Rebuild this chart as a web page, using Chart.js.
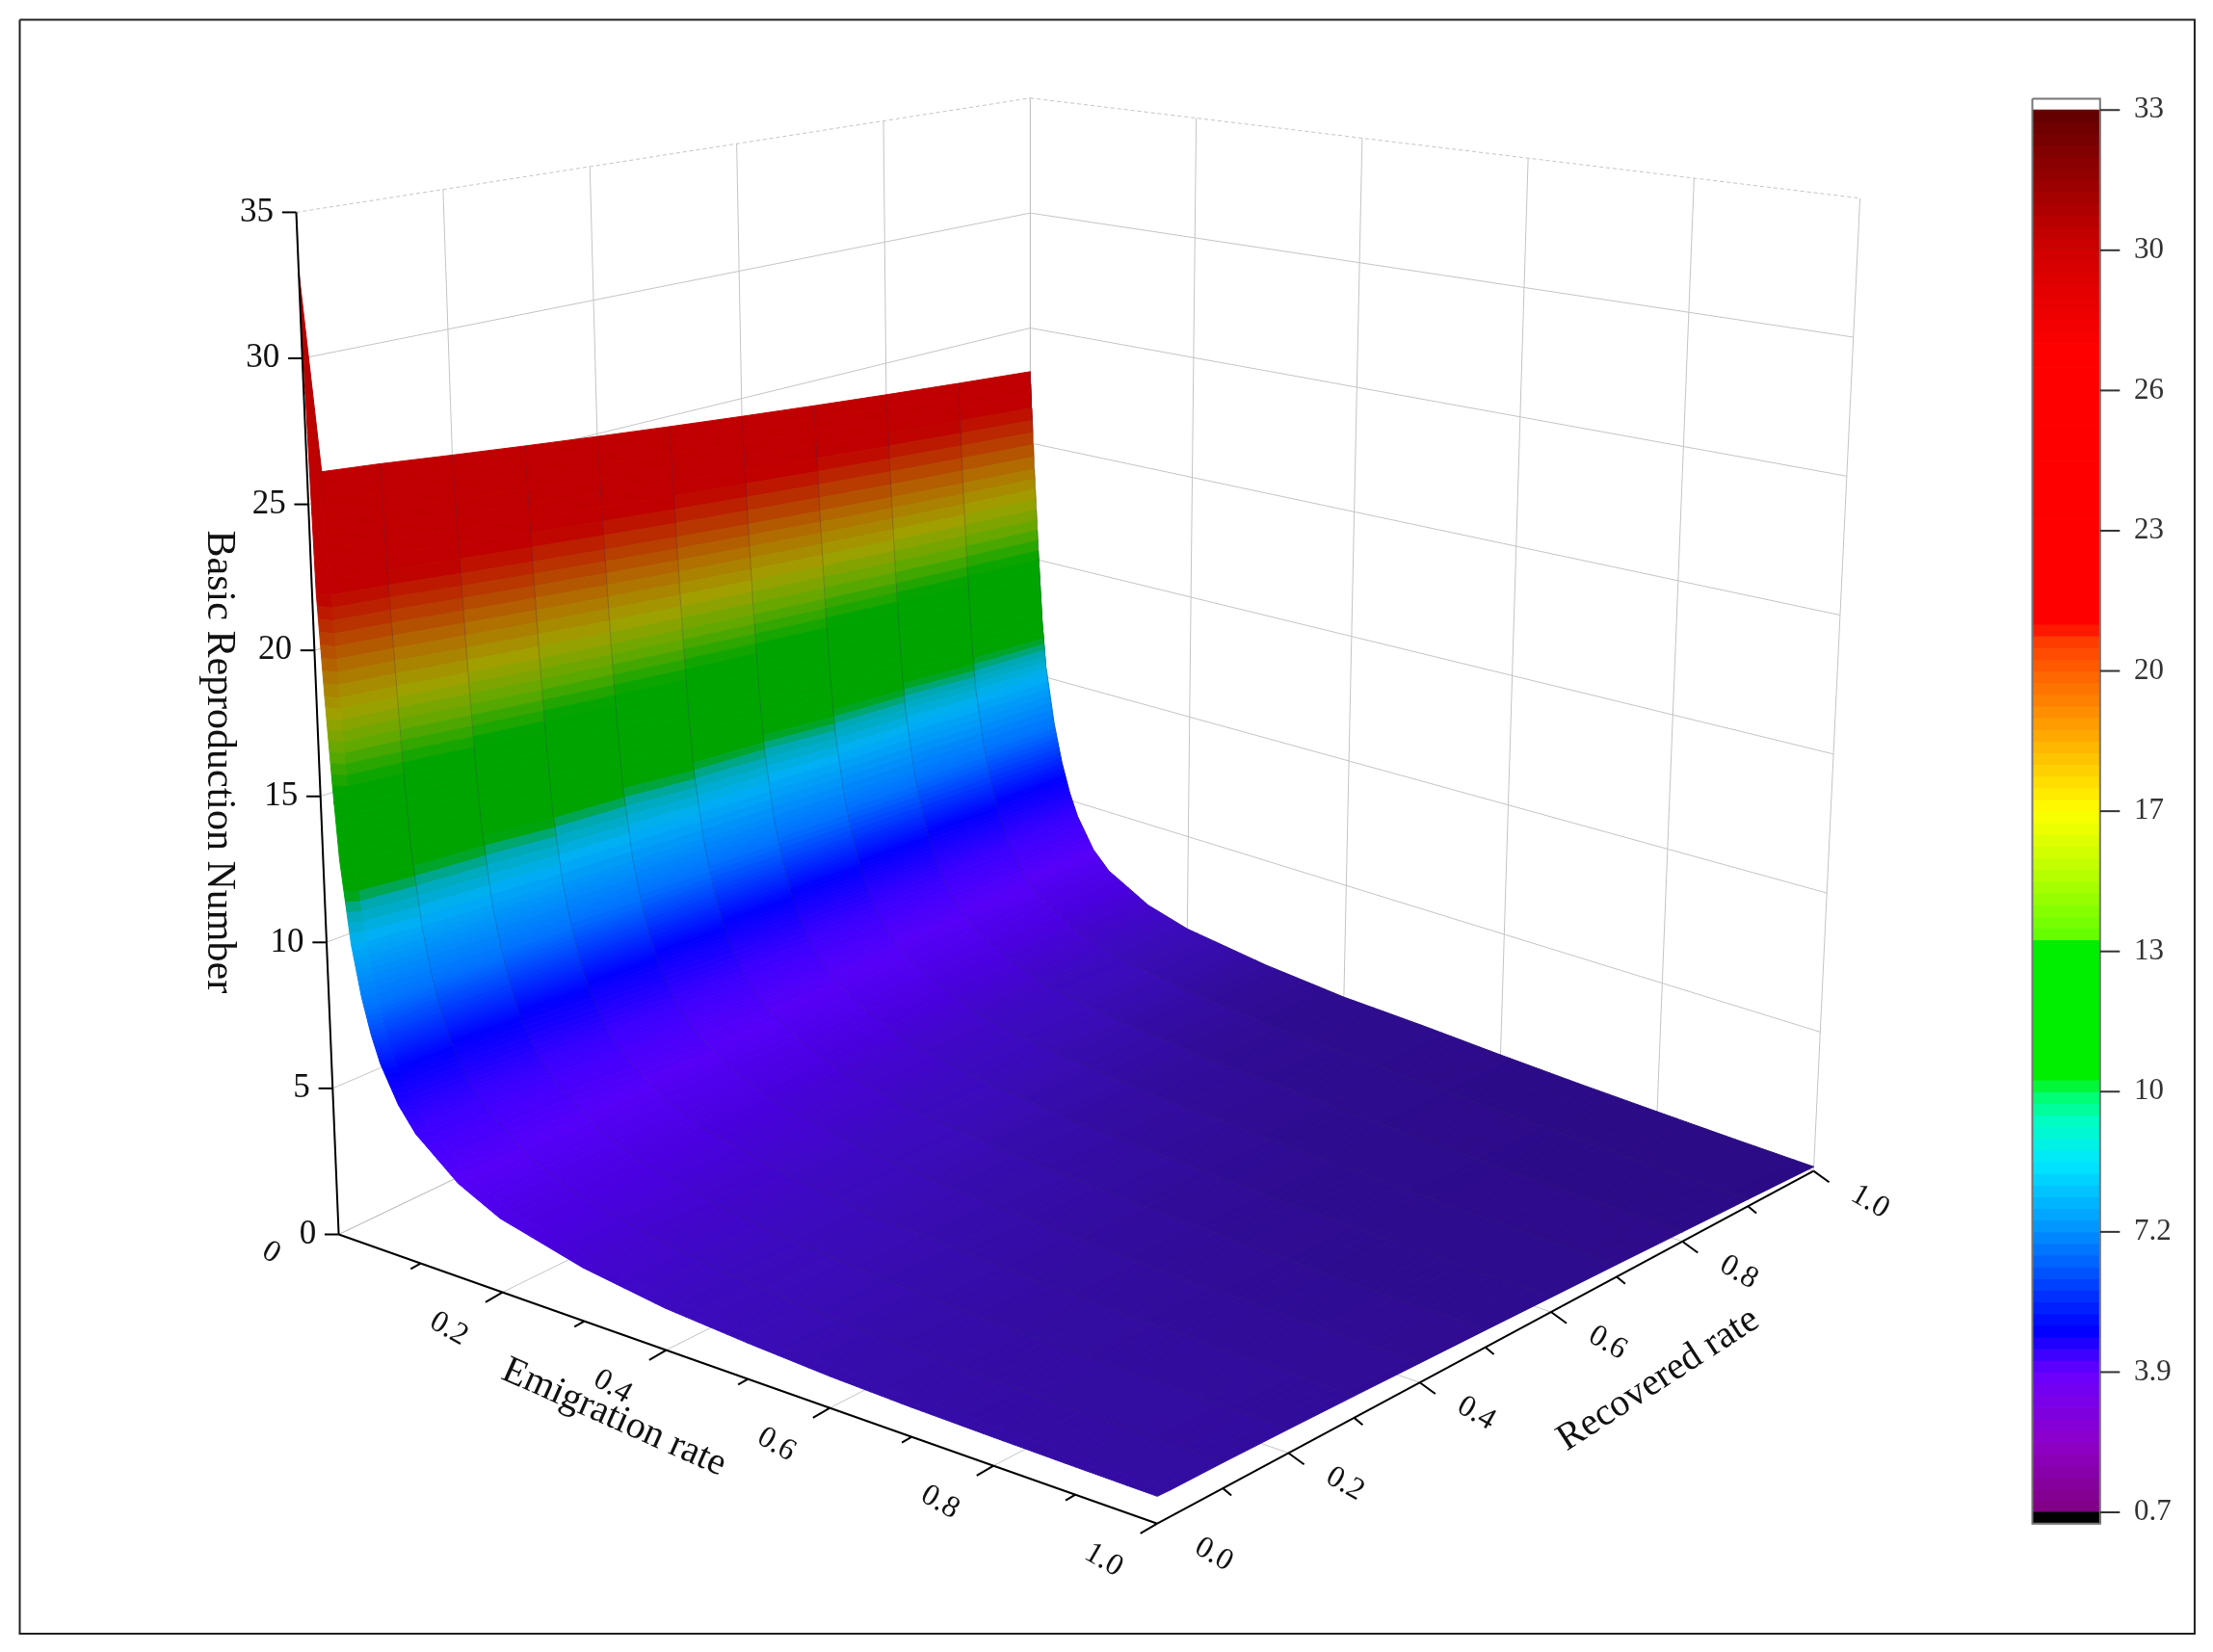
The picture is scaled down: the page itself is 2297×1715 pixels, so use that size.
<!DOCTYPE html>
<html>
<head>
<meta charset="utf-8">
<script src="https://cdn.jsdelivr.net/npm/chart.js@4.4.1/dist/chart.umd.min.js"></script>
<style>
  html, body { margin: 0; padding: 0; background: #fff; }
  #wrap { width: 2297px; height: 1715px; }
</style>
</head>
<body>
<div id="wrap"><canvas id="c" width="2297" height="1715"></canvas></div>
<script>
// --- data ---
const emigration = [0, 0.005, 0.01, 0.015, 0.02, 0.03, 0.04, 0.05, 0.06, 0.08, 0.1, 0.15, 0.2, 0.3, 0.4, 0.5, 0.6, 0.7, 0.8, 0.9, 1.0];
const recovered = [0, 0.02, 0.1, 0.2, 0.3, 0.4, 0.5, 0.6, 0.7, 0.8, 0.9, 1.0];
// rows follow emigration, columns follow recovered
const r0Values = [
  [33, 26, 25.8, 25.5, 25.2, 24.9, 24.6, 24.3, 24.0, 23.7, 23.4, 23.1],
  [22, 21.8, 21.6, 21.3, 21, 20.7, 20.4, 20.1, 19.8, 19.5, 19.2, 18.9],
  [18.5, 18.3, 18.1, 17.8, 17.5, 17.2, 16.9, 16.6, 16.3, 16, 15.7, 15.4],
  [15.5, 15.3, 15.1, 14.8, 14.5, 14.2, 13.9, 13.6, 13.3, 13, 12.7, 12.4],
  [13, 12.8, 12.6, 12.4, 12.1, 11.9, 11.6, 11.4, 11.1, 10.9, 10.6, 10.4],
  [10.2, 10.1, 9.9, 9.7, 9.5, 9.3, 9.1, 8.9, 8.7, 8.5, 8.3, 8.1],
  [8.5, 8.4, 8.3, 8.1, 7.9, 7.7, 7.5, 7.3, 7.1, 6.9, 6.7, 6.5],
  [7.3, 7.2, 7.1, 6.9, 6.7, 6.5, 6.3, 6.1, 5.9, 5.7, 5.5, 5.3],
  [6.4, 6.3, 6.2, 6.0, 5.8, 5.6, 5.4, 5.2, 5.0, 4.8, 4.6, 4.4],
  [5.2, 5.1, 5.0, 4.8, 4.6, 4.4, 4.2, 4.0, 3.8, 3.6, 3.4, 3.2],
  [4.4, 4.35, 4.25, 4.1, 3.9, 3.7, 3.5, 3.3, 3.1, 2.9, 2.7, 2.5],
  [3.2, 3.15, 3.1, 2.95, 2.8, 2.65, 2.5, 2.35, 2.2, 2.0, 1.8, 1.6],
  [2.5, 2.45, 2.4, 2.3, 2.2, 2.05, 1.9, 1.75, 1.6, 1.45, 1.3, 1.15],
  [1.8, 1.78, 1.75, 1.67, 1.58, 1.48, 1.37, 1.25, 1.13, 1.0, 0.87, 0.75],
  [1.4, 1.38, 1.35, 1.29, 1.22, 1.14, 1.05, 0.95, 0.85, 0.74, 0.63, 0.52],
  [1.2, 1.18, 1.16, 1.1, 1.04, 0.97, 0.9, 0.82, 0.73, 0.64, 0.54, 0.45],
  [1.05, 1.03, 1.01, 0.96, 0.9, 0.84, 0.77, 0.69, 0.61, 0.52, 0.43, 0.34],
  [0.97, 0.95, 0.93, 0.88, 0.82, 0.76, 0.69, 0.61, 0.53, 0.44, 0.35, 0.26],
  [0.93, 0.91, 0.89, 0.84, 0.78, 0.71, 0.64, 0.56, 0.48, 0.39, 0.3, 0.21],
  [0.9, 0.88, 0.86, 0.81, 0.75, 0.68, 0.61, 0.53, 0.45, 0.36, 0.27, 0.17],
  [0.88, 0.86, 0.84, 0.79, 0.73, 0.66, 0.59, 0.51, 0.43, 0.34, 0.25, 0.15]
];

const zTicks = [0, 5, 10, 15, 20, 25, 30, 35];
const eTicks = [0.2, 0.4, 0.6, 0.8, 1.0];
const rTicks = [0.0, 0.2, 0.4, 0.6, 0.8, 1.0];
const barLabels = ['0.7', '3.9', '7.2', '10', '13', '17', '20', '23', '26', '30', '33'];

// colour of the surface by height, as seen on the shaded surface
const surfLevels = [0, 0.6, 1.2, 2.2, 3.2, 4.5, 6, 8, 10.2, 11.2, 11.8, 15.2, 16.5, 17.8, 19.2, 20.5, 21.8, 26, 33];
const surfColors = ['#2a0a80', '#2e0c90', '#3a0cb8', '#4a00e0', '#5600f8', '#3a00ff', '#0000ff', '#0070ff', '#00b0f4', '#00a8b0', '#00a400', '#00a400', '#60a800', '#a0a000', '#b07000', '#b83800', '#c00000', '#c00000', '#a00000'];
// colour bar stops (position in label steps, 0 = bottom)
const barStops = [0, 0.5, 1, 1.3, 1.7, 2, 2.5, 2.8, 3.0, 3.1, 4.05, 4.1, 4.6, 5, 5.4, 5.8, 6.2, 6.35, 8.3, 9, 10];
const barColors = ['#800080', '#8e00c8', '#6a00ff', '#0000ff', '#0050ff', '#0090ff', '#00e8ff', '#00ffc0', '#00ff60', '#00ee00', '#00ee00', '#60ff00', '#c0ff00', '#ffff00', '#ffc000', '#ff8000', '#ff4000', '#ff0000', '#ff0000', '#d00000', '#600000'];

// --- view (reference-pixel space, 1568 wide) ---
const W = 1568, H = 1171, K = 2297 / 1568;
const corner = { p00: [240, 875], p10: [820, 1080], p11: [1285, 830], p01: [730, 640] };
const zScale = { p00: 20.7, p10: 22, p11: 19.7, p01: 16.3 };
const lean = { p00: -0.86, p10: 0, p11: 0.94, p01: 0 };

function bl(o, e, r, i) {
  const g = k => (i === undefined ? o[k] : o[k][i]);
  return g('p00') * (1 - e) * (1 - r) + g('p10') * e * (1 - r) + g('p11') * e * r + g('p01') * (1 - e) * r;
}
function proj(e, r, z) {
  return { x: bl(corner, e, r, 0) + bl(lean, e, r) * z, y: bl(corner, e, r, 1) - bl(zScale, e, r) * z };
}

function hex(c) { return [1, 3, 5].map(i => parseInt(c.slice(i, i + 2), 16)); }
function ramp(levels, colors, v) {
  if (v <= levels[0]) return colors[0];
  for (let i = 1; i < levels.length; i++) {
    if (v <= levels[i]) {
      const t = (v - levels[i - 1]) / (levels[i] - levels[i - 1]);
      const a = hex(colors[i - 1]), b = hex(colors[i]);
      return 'rgb(' + a.map((x, j) => Math.round(x + (b[j] - x) * t)).join(',') + ')';
    }
  }
  return colors[colors.length - 1];
}

const datasets = [];
function line(pts, color, width, dash) {
  datasets.push({ type: 'line', data: pts, borderColor: color, borderWidth: width, borderDash: dash || [],
    pointRadius: 0, fill: false, tension: 0 });
}
function poly(pts, color, edge) {
  datasets.push({ type: 'line', data: pts.concat([pts[0]]), borderColor: edge || color, backgroundColor: color,
    borderWidth: 1, pointRadius: 0, fill: 'shape', tension: 0 });
}

// frame
line([{ x: 14, y: 14 }, { x: 1555, y: 14 }, { x: 1555, y: 1158 }, { x: 14, y: 1158 }, { x: 14, y: 14 }], '#222', 2);

// walls and floor grid
const grid = '#c4c4c4';
const steps = [0, 0.2, 0.4, 0.6, 0.8, 1.0];
steps.forEach(s => {
  line([proj(0, s, 0), proj(0, s, 35)], grid, 1);
  line([proj(s, 1, 0), proj(s, 1, 35)], grid, 1);
  line([proj(s, 0, 0), proj(s, 1, 0)], grid, 1);
  line([proj(0, s, 0), proj(1, s, 0)], grid, 1);
});
zTicks.forEach(z => {
  line([proj(0, 0, z), proj(0, 1, z)], grid, 1, z === 35 ? [4, 3] : []);
  line([proj(0, 1, z), proj(1, 1, z)], grid, 1, z === 35 ? [4, 3] : []);
});

// surface: each data cell is drawn as thin strips so the colour bands follow the height
const pieces = [];
const SUB = 8;
for (let i = 0; i < emigration.length - 1; i++) {
  for (let j = 0; j < recovered.length - 1; j++) {
    const e0 = emigration[i], e1 = emigration[i + 1], q0 = recovered[j], q1 = recovered[j + 1];
    const a = r0Values[i][j], b = r0Values[i + 1][j], c = r0Values[i + 1][j + 1], d = r0Values[i][j + 1];
    for (let s = 0; s < SUB; s++) {
      const t0 = s / SUB, t1 = (s + 1) / SUB;
      const ea = e0 + (e1 - e0) * t0, eb = e0 + (e1 - e0) * t1;
      const va = a + (b - a) * t0, vb = a + (b - a) * t1;
      const wa = d + (c - d) * t0, wb = d + (c - d) * t1;
      pieces.push({ depth: (1 - (ea + eb) / 2) + (q0 + q1) / 2,
        pts: [proj(ea, q0, va), proj(eb, q0, vb), proj(eb, q1, wb), proj(ea, q1, wa)],
        color: ramp(surfLevels, surfColors, (va + vb + wa + wb) / 4) });
    }
  }
}
pieces.sort((p, q) => q.depth - p.depth).forEach(p => poly(p.pts, p.color));

// faint mesh lines along emigration
recovered.slice(2).forEach(r => {
  const j = recovered.indexOf(r);
  line(emigration.map((e, i) => proj(e, r, r0Values[i][j])), 'rgba(40,40,90,0.25)', 1);
});

// axes
line([proj(0, 0, 0), proj(0, 0, 35)], '#000', 2);
line([proj(0, 0, 0), proj(1, 0, 0)], '#000', 2);
line([proj(1, 0, 0), proj(1, 1, 0)], '#000', 2);
zTicks.forEach(z => { const p = proj(0, 0, z); line([p, { x: p.x - 10, y: p.y }], '#000', 2); });
[0.1, 0.2, 0.3, 0.4, 0.5, 0.6, 0.7, 0.8, 0.9, 1.0].forEach(e => {
  const p = proj(e, 0, 0), big = eTicks.some(t => Math.abs(t - e) < 1e-6);
  line([p, { x: p.x - (big ? 12 : 7), y: p.y + (big ? 7 : 4) }], '#000', 2);
});
[0.1, 0.2, 0.3, 0.4, 0.5, 0.6, 0.7, 0.8, 0.9, 1.0].forEach(r => {
  const p = proj(1, r, 0), big = rTicks.some(t => Math.abs(t - r) < 1e-6);
  line([p, { x: p.x + (big ? 11 : 6), y: p.y + (big ? 8 : 5) }], '#000', 2);
});

// colour bar
const bx0 = 1440, bx1 = 1488, by0 = 1072, by1 = 78, n = 120;
for (let k = 0; k < n; k++) {
  const ya = by0 + (by1 - by0) * k / n, yb = by0 + (by1 - by0) * (k + 1) / n;
  poly([{ x: bx0, y: ya }, { x: bx1, y: ya }, { x: bx1, y: yb }, { x: bx0, y: yb }], ramp(barStops, barColors, 10 * (k + 0.5) / n));
}
poly([{ x: bx0, y: 1072 }, { x: bx1, y: 1072 }, { x: bx1, y: 1080 }, { x: bx0, y: 1080 }], '#000');
line([{ x: bx0, y: 70 }, { x: bx1, y: 70 }, { x: bx1, y: 1080 }, { x: bx0, y: 1080 }, { x: bx0, y: 70 }], '#777', 2);
barLabels.forEach((s, k) => {
  const y = by0 + (by1 - by0) * k / 10;
  line([{ x: bx1, y: y }, { x: bx1 + 14, y: y }], '#333', 2);
});

datasets.forEach((d, i) => { d.order = -i; });

const textPlugin = {
  id: 'texts',
  afterDatasetsDraw(chart) {
    const ctx = chart.ctx, xs = chart.scales.x, ys = chart.scales.y;
    const px = p => ({ x: xs.getPixelForValue(p.x), y: ys.getPixelForValue(p.y) });
    const put = (txt, p, size, rot, align, color) => {
      const q = px(p);
      ctx.save();
      ctx.translate(q.x, q.y);
      ctx.rotate(rot * Math.PI / 180);
      ctx.font = Math.round(size * K) + 'px "Liberation Serif", "DejaVu Serif", serif';
      ctx.fillStyle = color || '#111';
      ctx.textAlign = align || 'center';
      ctx.textBaseline = 'middle';
      ctx.fillText(txt, 0, 0);
      ctx.restore();
    };
    zTicks.forEach(z => { const p = proj(0, 0, z); put(String(z), { x: p.x - 16, y: p.y }, 24, 0, 'right'); });
    put('0', { x: 192, y: 888 }, 22, 30);
    eTicks.forEach(e => { const p = proj(e, 0, 0); put(e.toFixed(1), { x: p.x - 38, y: p.y + 26 }, 22, 30); });
    rTicks.forEach(r => { const p = proj(1, r, 0); put(r.toFixed(1), { x: p.x + 40, y: p.y + 22 }, 22, 30); });
    put('Basic Reproduction Number', { x: 155, y: 540 }, 29, 90);
    put('Emigration rate', { x: 435, y: 1005 }, 27, 24);
    put('Recovered rate', { x: 1175, y: 978 }, 27, -33);
    barLabels.forEach((s, k) => {
      const y = by0 + (by1 - by0) * k / 10;
      put(s, { x: bx1 + 24, y: y }, 21, 0, 'left', '#333');
    });
  }
};

new Chart(document.getElementById('c'), {
  type: 'scatter',
  data: { datasets },
  options: {
    responsive: false,
    animation: false,
    devicePixelRatio: 1,
    layout: { padding: 0 },
    plugins: { legend: { display: false }, tooltip: { enabled: false }, title: { display: false } },
    scales: {
      x: { type: 'linear', min: 0, max: W, display: false },
      y: { type: 'linear', min: 0, max: H, reverse: true, display: false }
    }
  },
  plugins: [textPlugin]
});
</script>
</body>
</html>
